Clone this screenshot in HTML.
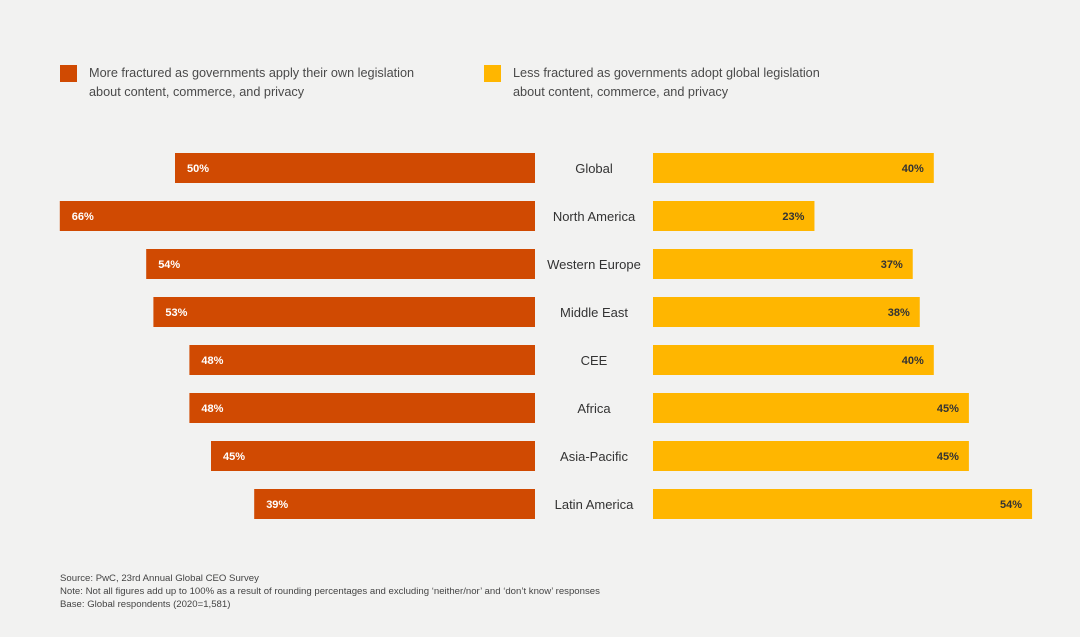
<!DOCTYPE html>
<html><head><meta charset="utf-8"><style>
body{margin:0;background:#f2f2f1;}
svg{display:block;font-family:"Liberation Sans",sans-serif;}
</style></head><body>
<svg id="chart" width="1080" height="637">
<rect width="1080" height="637" fill="#f2f2f1"/>
<g>
<rect x="60" y="65" width="17" height="17" fill="#d04a02"/>
<text x="89" y="77" font-size="12.7" fill="#4a4a4a"><tspan x="89">More fractured as governments apply their own legislation</tspan><tspan x="89" dy="19">about content, commerce, and privacy</tspan></text>
<rect x="484" y="65" width="17" height="17" fill="#ffb600"/>
<text x="513" y="77" font-size="12.7" fill="#4a4a4a"><tspan x="513">Less fractured as governments adopt global legislation</tspan><tspan x="513" dy="19">about content, commerce, and privacy</tspan></text>
</g>
<g id="bars"></g>
<g font-size="9.6" fill="#444">
<text x="60" y="581">Source: PwC, 23rd Annual Global CEO Survey</text>
<text x="60" y="594">Note: Not all figures add up to 100% as a result of rounding percentages and excluding ‘neither/nor’ and ‘don’t know’ responses</text>
<text x="60" y="607">Base: Global respondents (2020=1,581)</text>
</g>
</svg>
<script>
const categories = ["Global","North America","Western Europe","Middle East","CEE","Africa","Asia-Pacific","Latin America"];
const moreFractured = [50,66,54,53,48,48,45,39];
const lessFractured = [40,23,37,38,40,45,45,54];
const NS="http://www.w3.org/2000/svg";
const g=document.getElementById('bars');
const leftEnd=535, rightStart=653;
const xL=v=>v*7.2, xR=v=>v*7.02;
const yC=i=>168+i*48;
function mk(t,a){const e=document.createElementNS(NS,t);for(const k in a)e.setAttribute(k,a[k]);return e;}
categories.forEach((c,i)=>{
  const y=yC(i);
  const wl=xL(moreFractured[i]);
  const r1=mk('rect',{x:leftEnd-wl,y:y-15,width:wl,height:30,fill:'#d04a02'});
  
  
  g.appendChild(r1);
  const t1=mk('text',{x:leftEnd-wl+12,y:y+4,'font-size':'11','font-weight':'bold',fill:'#fff'});
  t1.textContent=moreFractured[i]+'%';
  
  
  g.appendChild(t1);
  const wr=xR(lessFractured[i]);
  const r2=mk('rect',{x:rightStart,y:y-15,width:wr,height:30,fill:'#ffb600'});
  
  
  g.appendChild(r2);
  const t2=mk('text',{x:rightStart+wr-10,y:y+4,'font-size':'11','font-weight':'bold',fill:'#333','text-anchor':'end'});
  t2.textContent=lessFractured[i]+'%';
  
  
  g.appendChild(t2);
  const lb=mk('text',{x:594,y:y+5,'font-size':'13',fill:'#333','text-anchor':'middle'});
  lb.textContent=c;
  
  
  g.appendChild(lb);
});
</script>
</body></html>
